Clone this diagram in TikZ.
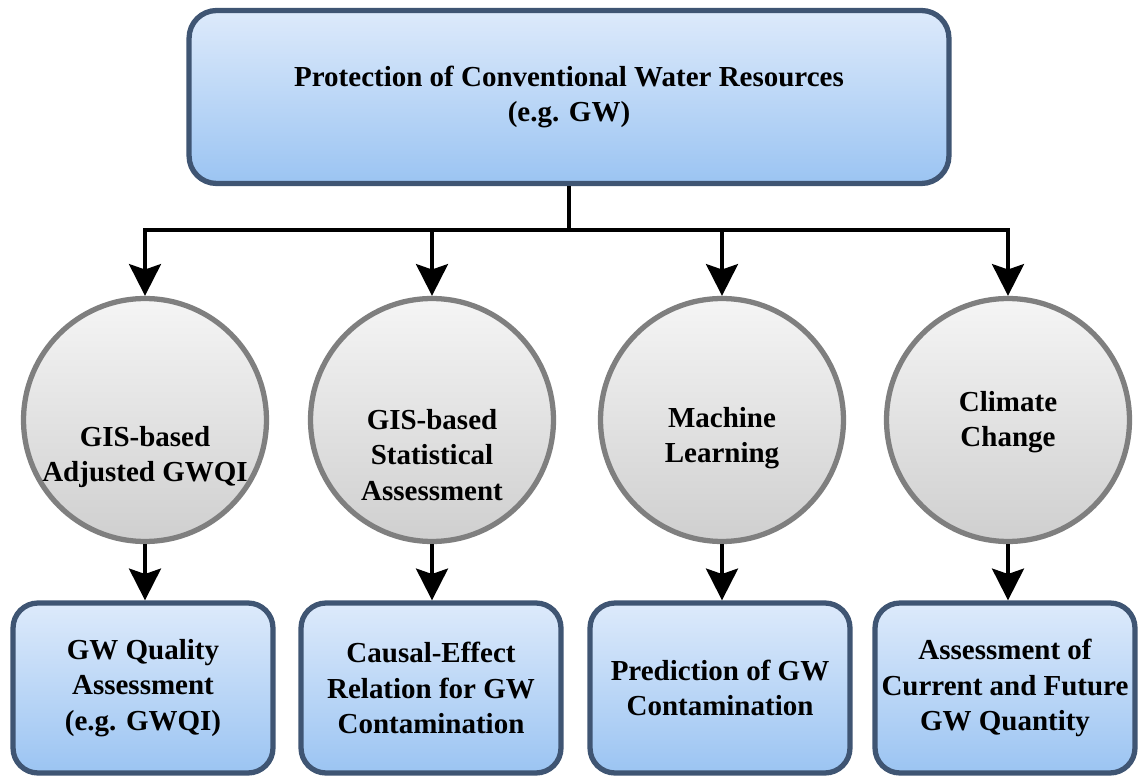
\documentclass[tikz,border=0pt]{standalone}
\usepackage{fontspec}
\newfontfamily\diagfont{Liberation Serif}
\usetikzlibrary{arrows.meta,positioning}
\definecolor{boxline}{HTML}{3F5573}
\definecolor{boxtop}{HTML}{DDEAFB}
\definecolor{boxbottom}{HTML}{9BC4F2}
\definecolor{ringline}{HTML}{7F7F7F}
\definecolor{ringtop}{HTML}{F5F5F5}
\definecolor{ringbottom}{HTML}{CFCFCF}
\tikzset{>={Stealth[length=18pt,width=18pt,inset=3pt]},
  textfont/.style={font=\diagfont\bfseries\fontsize{16.5}{20}\selectfont},
  goalbox/.style={draw=boxline,line width=3pt,rounded corners=0.55cm,
    top color=boxtop,bottom color=boxbottom,align=center,textfont},
  method/.style={circle,draw=ringline,line width=3pt,inner sep=0pt,
    minimum size=4.86cm,top color=ringtop,bottom color=ringbottom},
  methodtext/.style={align=center,textfont},
  link/.style={line width=2.8pt,black}}
\begin{document}
\begin{tikzpicture}[x=0.02cm,y=-0.02cm]
			\useasboundingbox (0,0) rectangle (1139,780);
			% \draw[help lines,step=50] (0,0) grid (1139,780);
			\coordinate (bar) at (0,230);
			\node[goalbox,minimum width=15.2cm,minimum height=3.46cm] (top) at (569,97)
				{Protection of Conventional Water Resources\\(e.g. GW)};
			\node[method] (m1) at (145,420) {};
			\node[method] (m2) at (432,420) {};
			\node[method] (m3) at (722,420) {};
			\node[method] (m4) at (1008,420) {};
			\node[methodtext] (t1) at ([yshift=-0.74cm]m1.center) {GIS-based\\Adjusted GWQI};
			\node[methodtext] (t2) at ([yshift=-0.70cm]m2.center) {GIS-based\\Statistical\\Assessment};
			\node[methodtext] (t3) at ([yshift=-0.36cm]m3.center) {Machine\\Learning};
			\node[methodtext] (t4) at ([yshift=-0.04cm]m4.center) {Climate\\Change};
			\foreach \x/\y in {1/143,2/431,3/720,4/1005}{
				\node[goalbox,minimum width=5.2cm,minimum height=3.4cm,rounded corners=0.5cm] (o\x) at (\y,688) {};
			}
			\node[methodtext] at (o1) {GW Quality\\Assessment\\(e.g. GWQI)};
			\node[methodtext] at (o2) {Causal-Effect\\Relation for GW\\Contamination};
			\node[methodtext] at (o3) {Prediction of GW\\Contamination};
			\node[methodtext] at (o4) {Assessment of\\Current and Future\\GW Quantity};
			% tree
			\draw[link] (top.south) -- (top.south |- bar);
			\draw[link,<->] (m1.north) -- (m1.north |- bar) -- (m4.north |- bar) -- (m4.north);
			\foreach \x in {2,3}{
				\draw[link,->] (m\x.north |- bar) -- (m\x.north);
			}
			\foreach \x in {1,2,3,4}{
				\draw[link,->] (m\x.south) -- (m\x.south |- o\x.north);
			}
		\end{tikzpicture}
\end{document}
